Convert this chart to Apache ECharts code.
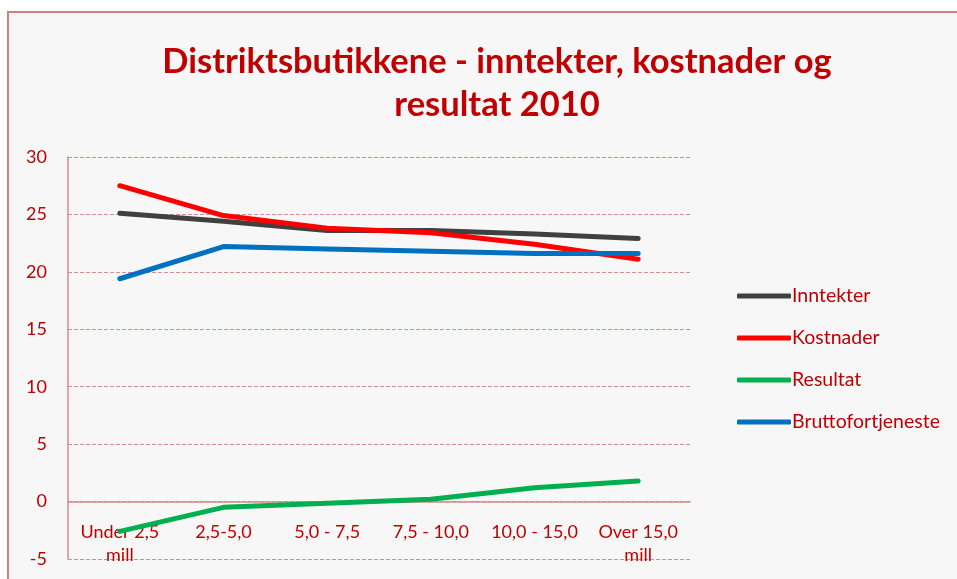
<!DOCTYPE html>
<html>
<head>
<meta charset="utf-8">
<script src="https://cdn.jsdelivr.net/npm/echarts@6/dist/echarts.min.js"></script>
<style>
html,body{margin:0;padding:0;background:#ffffff;}
#chart{width:957px;height:579px;}
</style>
</head>
<body>
<div id="chart"></div>
<script>
var categories = ['Under 2,5\nmill', '2,5-5,0', '5,0 - 7,5', '7,5 - 10,0', '10,0 - 15,0', 'Over 15,0\nmill'];
var inntekter = [25.1, 24.4, 23.6, 23.6, 23.3, 22.9];
var kostnader = [27.5, 24.9, 23.8, 23.4, 22.4, 21.1];
var resultat = [-2.6, -0.5, -0.15, 0.2, 1.2, 1.8];
var bruttofortjeneste = [19.4, 22.2, 22.0, 21.8, 21.6, 21.6];
var yTicks = { min: -5, max: 30, interval: 5 };

var textRed = '#c00000';
var gridPink = '#d48c8c';
var font = 'Lato';

var chart = echarts.init(document.getElementById('chart'));
function mk(name, data, color) {
  return {
    name: name, type: 'line', data: data, symbol: 'none',
    lineStyle: { color: color, width: 5, cap: 'round', join: 'round' },
    itemStyle: { color: color }
  };
}
chart.setOption({
  animation: false,
  graphic: [{
    type: 'rect', z: -10, silent: true,
    shape: { x: 8, y: 12, width: 1000, height: 600 },
    style: { fill: '#f7f7f7', stroke: '#d08080', lineWidth: 2 }
  }],
  title: {
    text: 'Distriktsbutikkene - inntekter, kostnader og\nresultat 2010',
    left: 492, top: 35, textAlign: 'center',
    textStyle: { color: textRed, fontFamily: font, fontWeight: 'bold', fontSize: 34.5, lineHeight: 43 }
  },
  legend: {
    orient: 'vertical', left: 732, top: 281, itemGap: 22,
    itemWidth: 54, itemHeight: 5, icon: 'roundRect',
    textStyle: { color: textRed, fontFamily: font, fontSize: 19.5, padding: [0, 0, 0, -4] },
    data: ['Inntekter', 'Kostnader', 'Resultat', 'Bruttofortjeneste']
  },
  grid: { left: 68, right: 267, top: 157, bottom: 20, outerBoundsMode: 'none' },
  xAxis: {
    type: 'category', data: categories, boundaryGap: true,
    axisLine: { onZero: true, lineStyle: { color: gridPink, width: 1.5 } },
    axisTick: { show: false },
    axisLabel: { color: textRed, fontFamily: font, fontSize: 18, lineHeight: 23, margin: -38, interval: 0 }
  },
  yAxis: {
    type: 'value', min: yTicks.min, max: yTicks.max, interval: yTicks.interval,
    axisLine: { show: true, lineStyle: { color: gridPink, width: 1.5 } },
    axisTick: { show: false },
    axisLabel: { color: textRed, fontFamily: font, fontSize: 18, margin: 21 },
    splitLine: { lineStyle: { color: gridPink, type: [4, 2], width: 1 } }
  },
  series: [
    mk('Inntekter', inntekter, '#404040'),
    mk('Kostnader', kostnader, '#ff0000'),
    mk('Resultat', resultat, '#00b050'),
    mk('Bruttofortjeneste', bruttofortjeneste, '#0070c0')
  ]
});
</script>
</body>
</html>
